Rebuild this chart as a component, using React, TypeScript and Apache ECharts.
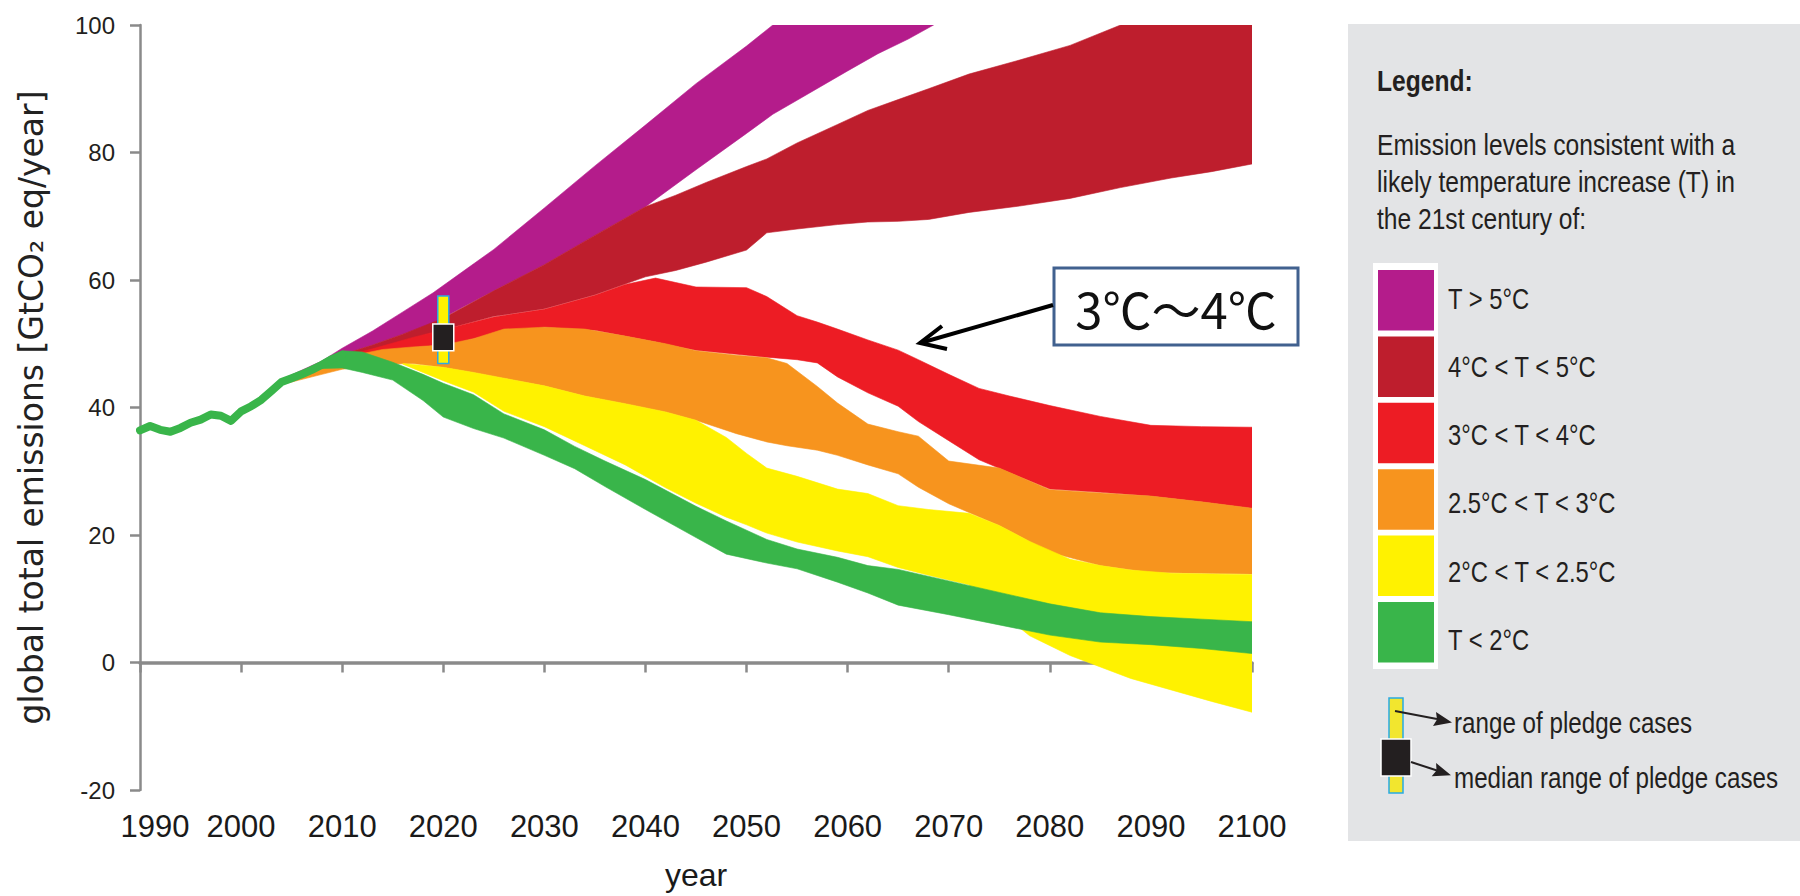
import React, { useEffect, useRef } from "react";
import * as echarts from "echarts";

// ---------- data ----------
const xTickYears = [1990, 2000, 2010, 2020, 2030, 2040, 2050, 2060, 2070, 2080, 2090, 2100];
const yTickValues = [-20, 0, 20, 40, 60, 80, 100];

const histYears = [1990, 1991, 1992, 1993, 1994, 1995, 1996, 1997, 1998, 1999, 2000, 2001, 2002, 2003, 2004, 2005, 2006, 2007, 2008, 2009, 2010];
const histEmissions = [36.4, 37.1, 36.5, 36.2, 36.8, 37.6, 38.1, 38.9, 38.7, 37.9, 39.4, 40.2, 41.2, 42.6, 44.0, 44.6, 45.2, 45.9, 46.7, 47.6, 48.3];

const purpleYears = [2004, 2008, 2010, 2013, 2016, 2019, 2022, 2025, 2030, 2035, 2040, 2045, 2050, 2052.6, 2055, 2060, 2063, 2066, 2068.5];
const purpleHigh = [44.4, 47.3, 49.3, 52.0, 55.0, 58.0, 61.4, 64.8, 71.3, 77.9, 84.3, 90.8, 96.7, 100, 100, 100, 100, 100, 100];
const purpleLow = [44.2, 47.0, 48.3, 49.8, 51.5, 53.2, 55.8, 58.3, 62.4, 67.0, 71.5, 77.3, 83.0, 86.0, 88.2, 92.8, 95.5, 97.8, 100];

const darkRedYears = [2004, 2008, 2010, 2013, 2016, 2020, 2025, 2030, 2035, 2040, 2043, 2046, 2050, 2052, 2055, 2059, 2062, 2065, 2068, 2072, 2077, 2082, 2087, 2092, 2096, 2100];
const darkRedHigh = [44.2, 47.0, 48.3, 49.8, 51.5, 54.0, 58.3, 62.4, 67.0, 71.5, 73.3, 75.3, 77.8, 79.0, 81.5, 84.4, 86.6, 88.3, 90.0, 92.3, 94.5, 96.8, 100, 100, 100, 100];
const darkRedLow = [44.0, 46.6, 47.8, 49.0, 50.4, 52.2, 54.3, 55.5, 57.7, 60.5, 61.5, 62.8, 64.7, 67.4, 68.0, 68.7, 69.1, 69.2, 69.5, 70.6, 71.6, 72.8, 74.5, 76.0, 77.0, 78.2];

const redYears = [2004, 2008, 2010, 2013, 2017, 2021, 2025, 2030, 2035, 2038, 2041, 2043, 2045, 2050, 2052, 2055, 2057, 2059, 2062, 2065, 2067, 2070, 2073, 2076, 2080, 2085, 2090, 2095, 2100];
const redHigh = [44.1, 46.8, 48.0, 49.2, 51.0, 52.6, 54.2, 55.4, 57.6, 59.3, 60.3, 59.6, 58.9, 58.8, 57.4, 54.4, 53.4, 52.3, 50.6, 49.0, 47.5, 45.2, 43.0, 41.8, 40.3, 38.6, 37.2, 37.0, 36.9];
const redLow = [43.9, 46.0, 47.2, 48.6, 49.4, 50.0, 51.6, 52.6, 52.1, 51.2, 50.3, 49.6, 49.0, 48.2, 47.9, 47.5, 47.0, 44.8, 42.3, 40.2, 37.8, 34.8, 31.8, 29.8, 27.2, 26.7, 26.1, 25.2, 24.2];

const orangeYears = [2004, 2008, 2010, 2014, 2017, 2020, 2023, 2026, 2030, 2034, 2038, 2042, 2045, 2049, 2052, 2054, 2057, 2059, 2062, 2065, 2067, 2070, 2075, 2080, 2085, 2090, 2095, 2100];
const orangeHigh = [44.0, 46.5, 47.8, 49.1, 49.5, 49.8, 50.8, 52.3, 52.6, 52.3, 51.2, 50.0, 48.9, 48.2, 47.8, 46.9, 43.3, 40.7, 37.4, 36.2, 35.5, 31.6, 30.5, 27.1, 26.6, 26.1, 25.2, 24.2];
const orangeLow = [43.6, 45.2, 46.0, 46.8, 46.9, 46.3, 45.5, 44.6, 43.4, 41.8, 40.6, 39.3, 38.0, 35.9, 34.6, 34.0, 33.3, 32.5, 31.0, 29.6, 27.5, 24.9, 21.5, 17.3, 15.2, 14.1, 14.0, 13.9];

const yellowYears = [2016, 2020, 2023, 2026, 2030, 2034, 2038, 2042, 2045, 2048, 2050, 2052, 2055, 2059, 2062, 2065, 2068, 2072, 2075, 2078, 2082, 2085, 2088, 2092, 2096, 2100];
const yellowHigh = [46.9, 46.3, 45.5, 44.6, 43.4, 41.8, 40.6, 39.3, 38.0, 35.3, 32.8, 30.5, 29.2, 27.2, 26.5, 24.6, 24.0, 23.4, 21.5, 19.0, 16.2, 15.2, 14.5, 14.0, 13.9, 13.8];
const yellowLow = [46.8, 44.2, 42.4, 39.4, 37.0, 34.0, 31.0, 27.4, 25.0, 22.8, 21.6, 20.3, 18.9, 17.5, 16.6, 14.9, 13.7, 12.2, 8.0, 4.2, 1.1, -0.7, -2.5, -4.3, -6.1, -7.8];

const greenYears = [2008, 2010, 2012, 2015, 2018, 2020, 2023, 2026, 2030, 2033, 2036, 2040, 2045, 2048, 2052, 2055, 2059, 2062, 2065, 2070, 2075, 2080, 2085, 2090, 2095, 2100];
const greenHigh = [47.3, 48.9, 48.7, 47.1, 45.2, 43.8, 42.0, 39.0, 36.5, 33.9, 31.6, 28.7, 24.5, 22.2, 19.3, 17.8, 16.5, 15.2, 14.6, 12.8, 11.0, 9.2, 7.8, 7.2, 6.8, 6.4];
const greenLow = [46.1, 46.2, 45.5, 44.3, 41.1, 38.5, 36.7, 35.2, 32.5, 30.4, 27.6, 24.0, 19.6, 17.0, 15.6, 14.7, 12.6, 10.9, 9.0, 7.5, 5.9, 4.3, 3.2, 2.8, 2.2, 1.4];

const bandNames = ["T > 5°C", "4°C < T < 5°C", "3°C < T < 4°C", "2.5°C < T < 3°C", "2°C < T < 2.5°C", "T < 2°C"];
const bandColors = ["#B41C8B", "#BE1E2D", "#ED1C24", "#F7941E", "#FFF200", "#39B54A"];

const pledgeYear = 2020;
const pledgeRange = [46.9, 57.5];
const pledgeMedian = [48.9, 53.1];

const legendTitle = "Legend:";
const legendIntro = ["Emission levels consistent with a", "likely temperature increase (T) in", "the 21st century of:"];
const pledgeLabels = ["range of pledge cases", "median range of pledge cases"];
const annotationText = "3℃～4℃";
const yAxisTitle = "global total emissions [GtCO₂ eq/year]";
const xAxisTitle = "year";

// ---------- styles ----------
const SANS = "'Liberation Sans', Arial, Roboto, sans-serif";
const NARROW_SCALE = 0.82;
const TEXT = "#231F20";
const AXIS = "#8A8A8A";

function bandSeries(name: string, color: string, years: number[], low: number[], high: number[]) {
  return {
    type: "custom",
    name,
    coordinateSystem: "cartesian2d",
    xAxisIndex: 0,
    yAxisIndex: 0,
    silent: true,
    clip: true,
    data: [[years[0], low[0]]],
    renderItem: (_params: any, api: any) => {
      const pts: number[][] = [];
      for (let i = 0; i < years.length; i++) pts.push(api.coord([years[i], high[i]]));
      for (let i = years.length - 1; i >= 0; i--) pts.push(api.coord([years[i], low[i]]));
      return {
        type: "polygon",
        shape: { points: pts },
        style: { fill: color, stroke: color, lineWidth: 0.6 },
      };
    },
  };
}

function narrowText(text: string, x: number, y: number, size: number, bold = false) {
  return {
    type: "text",
    x,
    y,
    scaleX: NARROW_SCALE,
    style: { text, fontFamily: SANS, fontSize: size, fontWeight: bold ? "bold" : "normal", fill: TEXT, verticalAlign: "middle" },
  };
}

export default function App() {
  const ref = useRef<HTMLDivElement>(null);

  useEffect(() => {
    if (!ref.current) return;
    const chart = echarts.init(ref.current, null, { renderer: "svg" });

    const bands = [
      [purpleYears, purpleLow, purpleHigh],
      [darkRedYears, darkRedLow, darkRedHigh],
      [redYears, redLow, redHigh],
      [orangeYears, orangeLow, orangeHigh],
      [yellowYears, yellowLow, yellowHigh],
      [greenYears, greenLow, greenHigh],
    ] as number[][][];

    const series: any[] = bands.map((b, i) => bandSeries(bandNames[i], bandColors[i], b[0], b[1], b[2]));

    series.push({
      type: "line",
      name: "history",
      xAxisIndex: 0,
      yAxisIndex: 0,
      data: histYears.map((y, i) => [y, histEmissions[i]]),
      showSymbol: false,
      silent: true,
      lineStyle: { color: bandColors[5], width: 8, cap: "round", join: "round" },
    });

    series.push({
      type: "custom",
      name: "pledge",
      coordinateSystem: "cartesian2d",
      xAxisIndex: 0,
      yAxisIndex: 0,
      silent: true,
      z: 5,
      data: [[pledgeYear, pledgeRange[0], pledgeRange[1], pledgeMedian[0], pledgeMedian[1]]],
      renderItem: (_p: any, api: any) => {
        const x = api.value(0);
        const top = api.coord([x, api.value(2)]);
        const bot = api.coord([x, api.value(1)]);
        const mTop = api.coord([x, api.value(4)]);
        const mBot = api.coord([x, api.value(3)]);
        return {
          type: "group",
          children: [
            {
              type: "rect",
              shape: { x: top[0] - 5.5, y: top[1], width: 11, height: bot[1] - top[1] },
              style: { fill: "#FFF200", stroke: "#29ABE2", lineWidth: 1.5 },
            },
            {
              type: "rect",
              shape: { x: mTop[0] - 10.5, y: mTop[1], width: 21, height: mBot[1] - mTop[1] },
              style: { fill: TEXT, stroke: "#FFFFFF", lineWidth: 1.5 },
            },
          ],
        };
      },
    });

    const graphic: any[] = [];
    // legend panel
    graphic.push({ type: "rect", shape: { x: 1348, y: 24, width: 460, height: 817 }, style: { fill: "#E3E4E6" }, silent: true });
    graphic.push(narrowText(legendTitle, 1377, 81, 30, true));
    legendIntro.forEach((t, i) => graphic.push(narrowText(t, 1377, 145 + i * 37, 30)));
    graphic.push({ type: "rect", shape: { x: 1373, y: 263, width: 65, height: 406 }, style: { fill: "#FFFFFF" }, silent: true });
    bandColors.forEach((c, i) => {
      graphic.push({ type: "rect", shape: { x: 1378, y: 270 + i * 66.4, width: 56, height: 60.5 }, style: { fill: c } });
      graphic.push(narrowText(bandNames[i], 1448, 299 + i * 68.2, 29));
    });
    // pledge legend icon
    graphic.push({ type: "rect", shape: { x: 1389, y: 698, width: 14, height: 95 }, style: { fill: "#F2E62E", stroke: "#29ABE2", lineWidth: 1.5 } });
    graphic.push({ type: "rect", shape: { x: 1381, y: 739, width: 30, height: 37 }, style: { fill: TEXT, stroke: "#FFFFFF", lineWidth: 1.5 } });
    graphic.push({ type: "line", shape: { x1: 1395, y1: 711, x2: 1437, y2: 719 }, style: { stroke: TEXT, lineWidth: 2 } });
    graphic.push({ type: "polygon", shape: { points: [[1452, 722.4], [1433, 726], [1437, 719.5], [1436, 712]] }, style: { fill: TEXT } });
    graphic.push({ type: "line", shape: { x1: 1411, y1: 762, x2: 1437, y2: 770.5 }, style: { stroke: TEXT, lineWidth: 2 } });
    graphic.push({ type: "polygon", shape: { points: [[1451, 775.3], [1431.7, 776.2], [1436.5, 770.5], [1436.1, 763]] }, style: { fill: TEXT } });
    pledgeLabels.forEach((t, i) => graphic.push(narrowText(t, 1454, 723 + i * 55, 29.5)));
    // annotation
    graphic.push({ type: "rect", shape: { x: 1054, y: 268, width: 244, height: 77 }, style: { fill: "#FFFFFF", stroke: "#41618F", lineWidth: 3 } });
    graphic.push({
      type: "text", x: 1176, y: 307,
      style: { text: annotationText, fontFamily: "'Noto Sans CJK JP', 'Noto Sans', sans-serif", fontSize: 49, fill: "#111111", align: "center", verticalAlign: "middle" },
    });
    graphic.push({ type: "line", shape: { x1: 1053, y1: 305, x2: 922, y2: 342.5 }, style: { stroke: "#000000", lineWidth: 4 } });
    graphic.push({ type: "polyline", shape: { points: [[942, 326], [920, 343], [947, 349]] }, style: { stroke: "#000000", lineWidth: 4, fill: null, lineJoin: "miter" } });

    const option: any = {
      animation: false,
      backgroundColor: "#FFFFFF",
      grid: { left: 140, right: 548, top: 25, bottom: 101 },
      xAxis: [
        {
          type: "value",
          min: xTickYears[0],
          max: xTickYears[xTickYears.length - 1],
          interval: 10,
          axisLine: { show: true, onZero: true, lineStyle: { color: AXIS, width: 3.5 } },
          axisTick: { show: true, length: 10, lineStyle: { color: AXIS, width: 2.5 } },
          axisLabel: { show: false },
          splitLine: { show: false },
        },
        {
          type: "value",
          position: "bottom",
          min: xTickYears[0],
          max: xTickYears[xTickYears.length - 1],
          interval: 10,
          axisLine: { show: false, onZero: false },
          axisTick: { show: false },
          splitLine: { show: false },
          axisLabel: {
            show: true,
            margin: 21,
            fontFamily: SANS,
            fontSize: 31,
            color: "#1A1A1A",
            formatter: (v: number) => (v === xTickYears[0] ? "{first|" + v + "}" : String(v)),
            rich: { first: { padding: [0, 0, 0, 30], fontFamily: SANS, fontSize: 31, color: "#1A1A1A" } },
          },
          name: xAxisTitle,
          nameLocation: "middle",
          nameGap: 69,
          nameTextStyle: { fontFamily: SANS, fontSize: 32, color: "#1A1A1A" },
        },
      ],
      yAxis: {
        type: "value",
        min: yTickValues[0],
        max: yTickValues[yTickValues.length - 1],
        interval: 20,
        axisLine: { show: true, onZero: false, lineStyle: { color: AXIS, width: 2.5 } },
        axisTick: { show: true, length: 10, lineStyle: { color: AXIS, width: 2.5 } },
        splitLine: { show: false },
        axisLabel: { margin: 25, fontFamily: SANS, fontSize: 24, color: TEXT },
        name: yAxisTitle,
        nameLocation: "middle",
        nameRotate: 90,
        nameGap: 92,
        nameTextStyle: { fontFamily: "'DejaVu Sans', Verdana, sans-serif", fontSize: 33, color: "#222222" },
      },
      series,
      graphic,
    };

    chart.setOption(option);
    return () => chart.dispose();
  }, []);

  return <div ref={ref} style={{ position: "fixed", left: 0, top: 0, width: 1800, height: 896 }} />;
}
